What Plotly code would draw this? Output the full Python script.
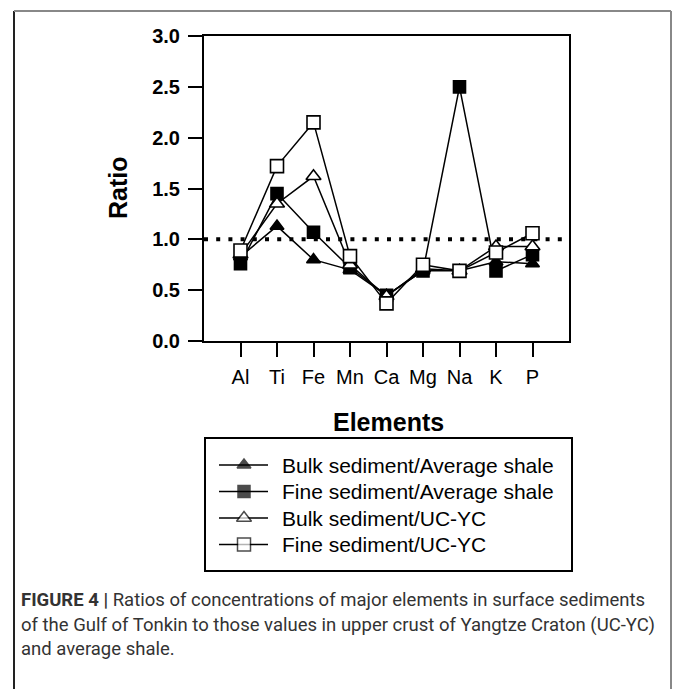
import plotly.graph_objects as go

# ---------------- data ----------------
elements = ["Al", "Ti", "Fe", "Mn", "Ca", "Mg", "Na", "K", "P"]
bulk_avg_shale = [0.83, 1.13, 0.80, 0.70, 0.45, 0.69, 0.69, 0.78, 0.76]
fine_avg_shale = [0.76, 1.45, 1.07, 0.72, 0.45, 0.69, 2.50, 0.69, 0.85]
bulk_uc_yc = [0.85, 1.35, 1.62, 0.75, 0.44, 0.71, 0.69, 0.93, 0.93]
fine_uc_yc = [0.89, 1.72, 2.15, 0.835, 0.37, 0.75, 0.69, 0.87, 1.06]
series_names = ["Bulk sediment/Average shale", "Fine sediment/Average shale",
                "Bulk sediment/UC-YC", "Fine sediment/UC-YC"]
y_tick_vals = [0.0, 0.5, 1.0, 1.5, 2.0, 2.5, 3.0]
reference_ratio = 1.0
caption_lines = [
    "<b>FIGURE 4 |</b> Ratios of concentrations of major elements in surface sediments",
    "of the Gulf of Tonkin to those values in upper crust of Yangtze Craton (UC-YC)",
    "and average shale.",
]

# ---------------- styling ----------------
W, H = 673, 689
FONT = "Liberation Sans, Arial, sans-serif"
series_values = [bulk_avg_shale, fine_avg_shale, bulk_uc_yc, fine_uc_yc]
symbols = ["triangle-up", "square", "triangle-up", "square"]
fills = ["black", "black", "white", "white"]
sizes = [12, 12, 13, 13]

fig = go.Figure()
for name, vals, sym, fc, sz in zip(series_names, series_values, symbols, fills, sizes):
    fig.add_trace(go.Scatter(
        x=elements, y=vals, name=name, mode="lines+markers",
        line=dict(color="black", width=1.5),
        marker=dict(symbol=sym, size=sz, color=fc, line=dict(color="black", width=1.6)),
        showlegend=False, xaxis="x", yaxis="y", cliponaxis=False,
    ))

# custom legend (pixel-coordinate overlay axes)
leg_rows = [465, 491.5, 518, 544.5]
fig.add_trace(go.Scatter(
    x=[244] * 4, y=leg_rows, mode="markers",
    marker=dict(symbol=symbols, size=[12, 12, 13, 13], color=fills,
                line=dict(color="black", width=1.5)),
    showlegend=False, xaxis="x2", yaxis="y2", hoverinfo="skip",
))

shapes = []
# reference line at ratio 1
shapes.append(dict(type="line", xref="x", yref="y", x0=-1, x1=9,
                   y0=reference_ratio, y1=reference_ratio,
                   line=dict(color="black", width=4, dash="4px,8.2px"), layer="below"))
# legend lines and box
for r in leg_rows:
    shapes.append(dict(type="line", xref="x2", yref="y2", x0=219, x1=268, y0=r, y1=r,
                       line=dict(color="black", width=1.5), layer="below"))
shapes.append(dict(type="rect", xref="x2", yref="y2", x0=205, x1=572, y0=438, y1=571,
                   line=dict(color="black", width=2)))
# outer frame
shapes.append(dict(type="line", xref="x2", yref="y2", x0=14, x1=14, y0=11, y1=689,
                   line=dict(color="#222222", width=2)))
shapes.append(dict(type="line", xref="x2", yref="y2", x0=14, x1=671, y0=11, y1=11,
                   line=dict(color="#888888", width=2)))
shapes.append(dict(type="line", xref="x2", yref="y2", x0=671, x1=671, y0=11, y1=689,
                   line=dict(color="#888888", width=2)))

annotations = []
for r, name in zip(leg_rows, series_names):
    annotations.append(dict(xref="x2", yref="y2", x=280, y=r, text=name, showarrow=False,
                            xanchor="left", yanchor="middle",
                            font=dict(family=FONT, size=21, color="black")))
annotations.append(dict(xref="x2", yref="y2", x=388, y=422, text="<b>Elements</b>",
                        showarrow=False, xanchor="center", yanchor="middle",
                        font=dict(family=FONT, size=25, color="black")))
annotations.append(dict(xref="x2", yref="y2", x=118, y=188, text="<b>Ratio</b>",
                        showarrow=False, xanchor="center", yanchor="middle", textangle=-90,
                        font=dict(family=FONT, size=25, color="black")))
for i, line in enumerate(caption_lines):
    annotations.append(dict(xref="x2", yref="y2", x=19, y=600 + i * 24.5, text=line,
                            showarrow=False, xanchor="left", yanchor="middle",
                            font=dict(family="Roboto, " + FONT, size=18.5, color="#333333")))

fig.update_layout(
    template="none",
    width=W, height=H,
    margin=dict(l=0, r=0, t=0, b=0, pad=0),
    paper_bgcolor="white", plot_bgcolor="rgba(0,0,0,0)",
    showlegend=False,
    xaxis=dict(domain=[204 / W, 569 / W], type="category", range=[-1, 9],
               showline=True, linecolor="black", linewidth=2, mirror=True,
               ticks="outside", ticklen=14, tickwidth=2, tickcolor="black",
               showgrid=False, zeroline=False, automargin=False, ticklabelstandoff=3,
               tickfont=dict(family=FONT, size=20, color="black"), anchor="y"),
    yaxis=dict(domain=[1 - 341 / H, 1 - 36 / H], range=[0, 3], tickvals=y_tick_vals,
               tickformat=".1f",
               showline=True, linecolor="black", linewidth=2, mirror=True,
               ticks="outside", ticklen=14, tickwidth=2, tickcolor="black",
               showgrid=False, zeroline=False, automargin=False, ticklabelstandoff=4,
               tickfont=dict(family=FONT, size=20, color="black", weight="bold"), anchor="x"),
    xaxis2=dict(domain=[0, 1], range=[0, W], visible=False, showticklabels=False,
                automargin=False, anchor="y2", fixedrange=True),
    yaxis2=dict(domain=[0, 1], range=[H, 0], visible=False, showticklabels=False,
                automargin=False, anchor="x2", fixedrange=True),
    shapes=shapes,
    annotations=annotations,
)

fig.write_html(
    "out.html",
    config={"displayModeBar": False},
    post_script="document.body.style.margin='0';document.body.style.overflow='hidden';",
)
